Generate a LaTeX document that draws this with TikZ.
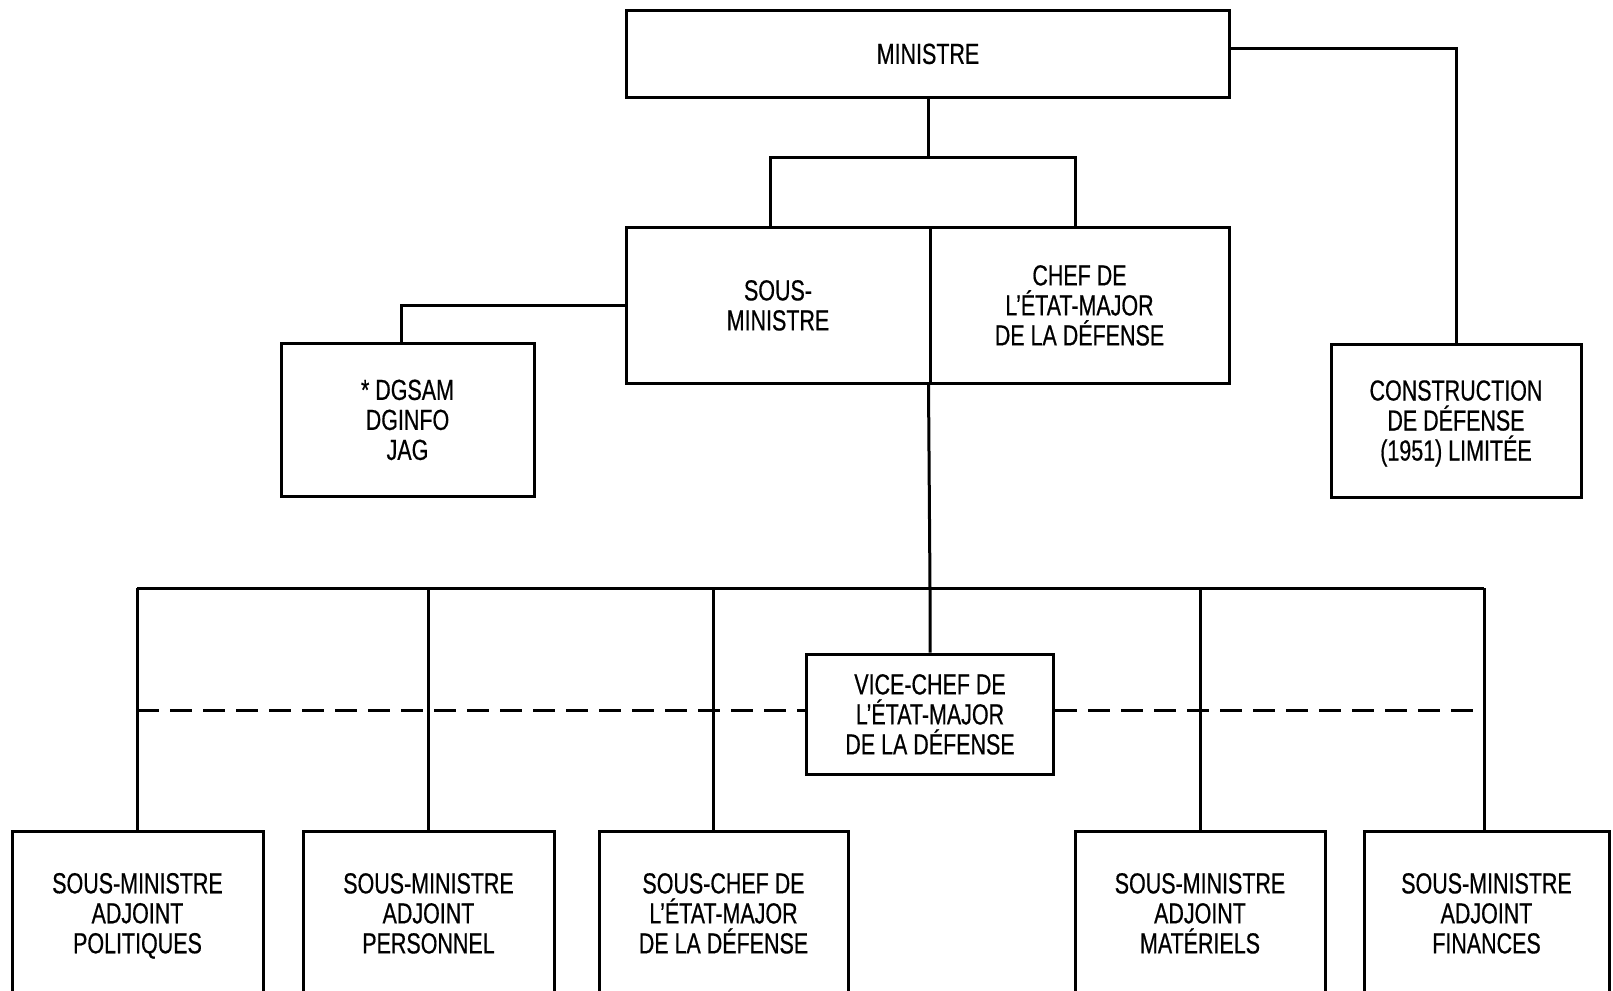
\documentclass[tikz,border=0pt]{standalone}
\usepackage{fontspec}
\setmainfont{Liberation Sans}[FakeStretch=0.74,FakeBold=0.5]
\newcommand{\st}{\rule{0pt}{13pt}}
\newcommand{\sd}{\rule[-2.6pt]{0pt}{2.6pt}}
\AtBeginDocument{\lineskiplimit=-20pt\relax}
\begin{document}
\begin{tikzpicture}[x=0.5pt,y=-0.5pt,
  line width=1.5pt,
  box/.style={draw,line width=1.5pt,rectangle,inner sep=0pt,align=center,
    font=\fontsize{14.5pt}{15pt}\selectfont},
  link/.style={line width=1.5pt},
  dashlink/.style={line width=1.5pt,dash pattern=on 11pt off 5.5pt}]
\useasboundingbox (0,0) rectangle (1613,991);
% top
\node[box,minimum width=603*0.5pt,minimum height=87*0.5pt] (min) at (928,53.5) {\st MINISTRE\sd};
\node[box,minimum width=304*0.5pt,minimum height=156*0.5pt] (sm) at (778,305) {\st SOUS-\\MINISTRE\sd};
\node[box,minimum width=299*0.5pt,minimum height=156*0.5pt] (cemd) at (1079.5,305) {\st CHEF DE\\L'ÉTAT-MAJOR\\DE LA DÉFENSE\sd};
\node[box,minimum width=253*0.5pt,minimum height=153*0.5pt] (dg) at (407.5,419.5) {\st * DGSAM\\DGINFO\\JAG\sd};
\node[box,minimum width=250*0.5pt,minimum height=153*0.5pt] (cons) at (1456,420.5) {\st CONSTRUCTION\\DE DÉFENSE\\(1951) LIMITÉE\sd};
\node[box,minimum width=247*0.5pt,minimum height=120*0.5pt] (vc) at (930,714) {\st VICE-CHEF DE\\L'ÉTAT-MAJOR\\DE LA DÉFENSE\sd};
% bottom row
\node[box,minimum width=251*0.5pt,minimum height=164*0.5pt] (b1) at (137.5,913) {\st SOUS-MINISTRE\\ADJOINT\\POLITIQUES\sd};
\node[box,minimum width=251*0.5pt,minimum height=164*0.5pt] (b2) at (428.5,913) {\st SOUS-MINISTRE\\ADJOINT\\PERSONNEL\sd};
\node[box,minimum width=249*0.5pt,minimum height=164*0.5pt] (b3) at (723.5,913) {\st SOUS-CHEF DE\\L'ÉTAT-MAJOR\\DE LA DÉFENSE\sd};
\node[box,minimum width=250*0.5pt,minimum height=164*0.5pt] (b4) at (1200,913) {\st SOUS-MINISTRE\\ADJOINT\\MATÉRIELS\sd};
\node[box,minimum width=245*0.5pt,minimum height=164*0.5pt] (b5) at (1486.5,913) {\st SOUS-MINISTRE\\ADJOINT\\FINANCES\sd};
% junctions
\coordinate (j1) at (928,157);
\coordinate (bl) at (137,588);
\coordinate (br) at (1484,588);
\coordinate (jc) at (930,588);
\coordinate (t3) at (713,588);
% connectors
\draw[link] (min.south) -- (j1);
\draw[link] ([xshift=-4pt]sm.north) |- (j1) -| ([xshift=-2.25pt]cemd.north);
\draw[link] (sm.west) -| ([xshift=-3.25pt]dg.north);
\draw[link] ([yshift=2.75pt]min.east) -| (cons.north);
\draw[link] (cemd.south west) -- (jc) -- (vc.north);
\draw[link] (bl) -- (br);
\draw[link] (bl) -- (bl |- b1.north);
\draw[link] (b2.north) -- (b2.north |- bl);
\draw[link] (t3) -- (t3 |- b3.north);
\draw[link] (b4.north) -- (b4.north |- bl);
\draw[link] (br) -- (br |- b5.north);
\draw[dashlink] ([yshift=2pt]bl |- vc.west) -- ([yshift=2pt]vc.west);
\draw[dashlink] ([yshift=2pt]vc.east) -- ([yshift=2pt]br |- vc.east);
\end{tikzpicture}
\end{document}
